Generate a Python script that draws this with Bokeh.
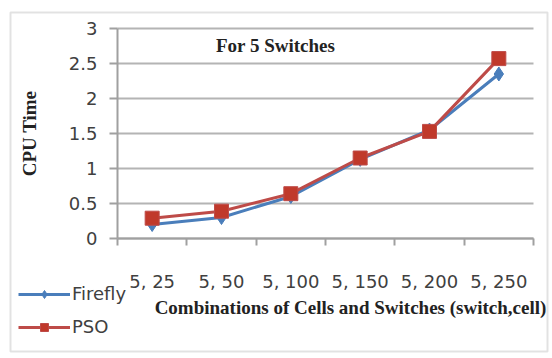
import numpy as np
from bokeh.plotting import figure
from bokeh.models import (Range1d, FixedTicker, Legend, LegendItem, Label, BoxAnnotation,
                          LinearAxis, Grid)
from bokeh.embed import file_html
from bokeh.resources import INLINE

categories = ["5, 25", "5, 50", "5, 100", "5, 150", "5, 200", "5, 250"]
firefly = [0.20, 0.30, 0.60, 1.13, 1.55, 2.35]
pso = [0.29, 0.39, 0.64, 1.15, 1.53, 2.57]
y_ticks = [0, 0.5, 1, 1.5, 2, 2.5, 3]
y_tick_labels = ["0", "0.5", "1", "1.5", "2", "2.5", "3"]

n = len(categories)
x = [i + 0.5 for i in range(n)]
bounds = list(range(n + 1))

SANS = "DejaVu Sans"
SERIF = "Liberation Serif"
GRID = "#b4b4b4"
AXIS = "#a0a0a0"
TXT = "#404040"

W, H = 552, 358
FL, FR, FT, FB = 117, 533, 28, 238        # plot area in pixels
xs = (FR - FL) / n
ys = (FB - FT) / 3.0

p = figure(width=W, height=H, output_backend="svg", toolbar_location=None,
           x_range=Range1d(-FL / xs, (W - FL) / xs),
           y_range=Range1d(-(H - FB) / ys, FB / ys),
           x_axis_location=None, y_axis_location=None,
           min_border=0)
p.min_border_left = p.min_border_right = p.min_border_top = p.min_border_bottom = 0
p.outline_line_color = None
p.background_fill_color = "white"
p.border_fill_color = "white"
p.xgrid.visible = False
p.ygrid.visible = False

# y grid limited to the plot area
yg = Grid(dimension=1, ticker=FixedTicker(ticks=y_ticks), bounds=(0, 3),
          cross_bounds=(0, n), grid_line_color=GRID, grid_line_width=2)
p.add_layout(yg)

# x axis: labels at category centres, tick marks at category boundaries
xa = LinearAxis(fixed_location=0, bounds=(0, n),
                ticker=FixedTicker(ticks=x, minor_ticks=bounds))
xa.major_label_overrides = {xi: c for xi, c in zip(x, categories)}
xa.major_tick_out = 0
xa.major_tick_in = 0
xa.minor_tick_out = 7
xa.minor_tick_in = 0
xa.minor_tick_line_color = AXIS
xa.minor_tick_line_width = 2
xa.axis_line_color = AXIS
xa.axis_line_width = 2
xa.major_label_standoff = 25
xa.major_label_text_font = SANS
xa.major_label_text_font_size = "18px"
xa.major_label_text_color = TXT
p.add_layout(xa, "below")

# y axis
ya = LinearAxis(fixed_location=0, bounds=(0, 3),
                ticker=FixedTicker(ticks=y_ticks, minor_ticks=[]))
ya.major_label_overrides = {t: l for t, l in zip(y_ticks, y_tick_labels)}
ya.major_tick_out = 8
ya.major_tick_in = 0
ya.major_tick_line_color = AXIS
ya.major_tick_line_width = 2
ya.axis_line_color = AXIS
ya.axis_line_width = 2
ya.major_label_standoff = 12
ya.major_label_text_font = SANS
ya.major_label_text_font_size = "18px"
ya.major_label_text_color = TXT
ya.axis_label = "CPU Time"
ya.axis_label_text_font = SERIF
ya.axis_label_text_font_style = "bold"
ya.axis_label_text_font_size = "19px"
ya.axis_label_text_color = "#222222"
ya.axis_label_standoff = 26
p.add_layout(ya, "left")

fl = p.line(x, firefly, line_color="#4a7ebb", line_width=3)
fm = p.scatter(x, firefly, marker="diamond", size=14, fill_color="#4a7ebb", line_color="#4a7ebb")
pl = p.line(x, pso, line_color="#be4b48", line_width=3)
pm = p.scatter(x, pso, marker="square", size=14, fill_color="#c0392b", line_color="#be4b48")

legend = Legend(items=[LegendItem(label="Firefly", renderers=[fl, fm]),
                       LegendItem(label="PSO", renderers=[pl, pm])],
                location=(18, 21), glyph_width=52, glyph_height=20,
                label_height=20, spacing=12, padding=0, margin=0,
                label_text_font=SANS, label_text_font_size="18px",
                label_text_color=TXT, label_standoff=2,
                background_fill_alpha=0, border_line_color=None)
p.add_layout(legend)

p.add_layout(Label(x=2.28, y=2.76, text="For 5 Switches", text_align="center",
                   text_baseline="middle", text_font=SERIF, text_font_style="bold",
                   text_font_size="19px", text_color="#222222"))
p.add_layout(Label(x=3.36, y=-0.99, text="Combinations of Cells and Switches (switch,cell)",
                   text_align="center", text_baseline="middle", text_font=SERIF,
                   text_font_style="bold", text_font_size="19px", text_color="#222222"))

p.add_layout(BoxAnnotation(left=10, right=547, top=12, bottom=351,
                           left_units="canvas", right_units="canvas",
                           top_units="canvas", bottom_units="canvas",
                           fill_alpha=0, line_color=AXIS, line_width=2))

open("out.html", "w").write(file_html(p, INLINE))
